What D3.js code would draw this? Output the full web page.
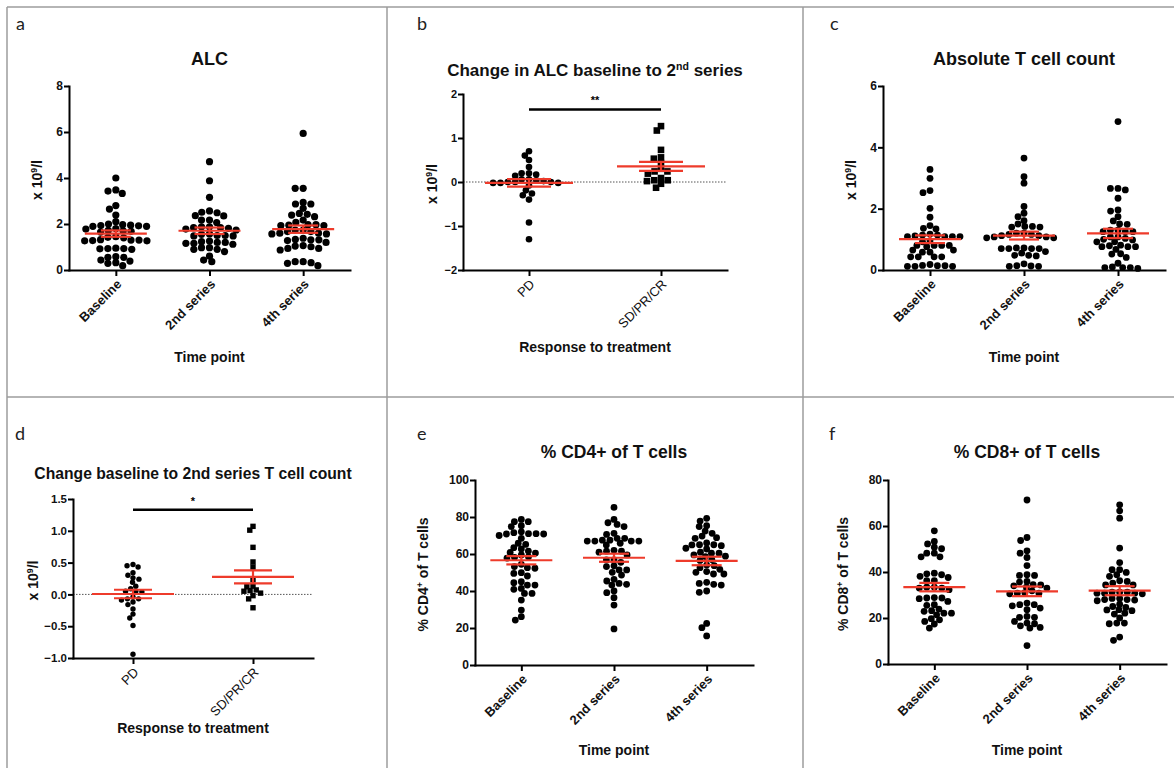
<!DOCTYPE html>
<html>
<head>
<meta charset="utf-8">
<script src="https://cdn.jsdelivr.net/npm/d3@7"></script>
<style>
body { margin: 0; background: #fff; }
svg { display: block; font-family: "Liberation Sans", Arial, sans-serif; }
</style>
</head>
<body>
<div id="chart"></div>
<script>
// Categories
var timePoints = ['Baseline', '2nd series', '4th series'];
var responseGroups = ['PD', 'SD/PR/CR'];

// a: ALC (x 10^9/l)
var alcBaseline = [4.0, 3.43, 3.33, 3.48, 2.8, 2.65, 2.39, 2.1, 1.97, 1.93, 1.9, 1.9, 1.92, 1.95, 2.0, 1.7, 1.68, 1.72, 1.65, 1.78, 1.8, 1.45, 1.42, 1.4, 1.3, 1.28, 1.27, 1.3, 1.32, 1.27, 0.95, 0.93, 0.92, 0.9, 0.93, 0.55, 0.55, 0.58, 0.43, 0.39, 0.32, 0.29, 0.19];
var alc2nd = [4.71, 3.88, 3.16, 2.57, 2.49, 2.35, 2.17, 2.06, 2.17, 2.36, 2.51, 1.88, 1.84, 1.81, 1.74, 1.78, 1.84, 1.88, 1.55, 1.5, 1.48, 1.48, 1.5, 1.57, 1.23, 1.2, 1.16, 1.12, 1.16, 1.2, 1.26, 0.97, 0.9, 0.9, 0.97, 0.8, 0.6, 0.36, 0.43];
var alc4th = [5.94, 3.55, 3.55, 2.87, 2.94, 2.87, 2.68, 2.46, 2.39, 2.42, 2.32, 2.17, 2.07, 1.97, 1.93, 1.93, 1.95, 1.97, 1.74, 1.67, 1.6, 1.57, 1.57, 1.6, 1.67, 1.74, 1.38, 1.31, 1.31, 1.33, 1.28, 1.2, 1.04, 0.94, 0.87, 0.94, 1.01, 1.06, 0.36, 0.32, 0.36, 0.19, 0.29];

// b: change in ALC baseline to 2nd series
var alcChangePD = [0.06, 0.04, 0, -0.02, -0.02, 0, -0.02, 0, 0.02, 0.06, 0.34, 0.6, 0.5, 0.7, 0.2, 0.14, 0.17, 0.2, -0.26, -0.4, -0.3, -0.19, -0.08, -0.92, -1.3];
var alcChangeSD = [1.27, 1.17, 0.73, 0.53, 0.56, 0.43, 0.3, 0.24, 0.19, 0.24, 0.04, 0.02, 0.04, 0.09, -0.04, -0.13];

// c: absolute T cell count
var tcellBaseline = [3.28, 2.99, 2.59, 2.52, 2.01, 1.72, 1.36, 1.34, 1.45, 1.17, 1.14, 1.09, 1.09, 1.09, 1.09, 1.11, 1.14, 0.95, 0.92, 0.8, 0.8, 0.8, 0.8, 0.76, 0.65, 0.58, 0.58, 0.65, 0.43, 0.43, 0.43, 0.43, 0.15, 0.14, 0.12, 0.12, 0.12, 0.14, 0.18];
var tcell2nd = [3.65, 3.04, 2.83, 2.07, 1.74, 1.85, 1.61, 1.5, 1.42, 1.4, 1.4, 1.42, 1.16, 1.2, 1.2, 1.16, 1.12, 1.08, 1.05, 1.05, 1.08, 1.12, 0.72, 0.7, 0.7, 0.7, 0.7, 0.72, 0.48, 0.48, 0.46, 0.55, 0.6, 0.2, 0.13, 0.12, 0.12, 0.14];
var tcell4th = [4.84, 2.66, 2.61, 2.66, 2.34, 1.96, 1.92, 1.74, 1.6, 1.49, 1.5, 1.3, 1.25, 1.25, 1.3, 1.25, 1.08, 1.0, 0.92, 0.92, 0.98, 1.03, 1.08, 0.81, 0.76, 0.67, 0.76, 0.76, 0.79, 0.53, 0.52, 0.22, 0.41, 0.08, 0.08, 0.05, 0.08, 0.1];

// d: change baseline to 2nd series T cell count
var tcellChangePD = [0.47, 0.43, 0.45, 0.34, 0.3, 0.26, 0.24, 0.19, 0.13, 0.09, 0.05, 0.05, 0.04, -0.04, -0.09, -0.07, -0.07, -0.16, -0.12, -0.23, -0.37, -0.31, -0.49, -0.94];
var tcellChangeSD = [1.07, 1.01, 0.74, 0.51, 0.43, 0.23, 0.12, 0.05, 0.13, 0.02, -0.07, -0.02, 0.06, 0.07, -0.21];

// e: % CD4+ of T cells
var cd4Baseline = [78.7, 77.5, 77.5, 74.8, 75.3, 71.5, 71, 70.8, 70.8, 71, 72, 70, 68.5, 65.2, 65.8, 63.4, 61.6, 62.7, 60.5, 58.2, 57.8, 58.5, 59.5, 60.8, 54.4, 52.6, 52.3, 53.2, 49.9, 49.5, 48.1, 43.2, 43.2, 45, 44.5, 40.9, 41.4, 38.7, 38.7, 35.1, 29.7, 24.3, 26.1];
var cd42nd = [85.2, 78.7, 76.9, 76.0, 74.8, 71.2, 70.6, 68.5, 67.5, 67, 67, 67, 67, 67.5, 68.5, 65.8, 64.9, 61.5, 61.5, 62, 61, 56.8, 59.5, 56.8, 55.5, 53.2, 53.6, 51.4, 51.4, 50.1, 46.3, 43.6, 43.2, 48.6, 44.1, 45.4, 39.1, 40, 36.4, 32.4, 19.5];
var cd44th = [79.3, 77.8, 74.8, 75.3, 71.2, 72.4, 68.5, 68.8, 69.7, 66, 65, 64.5, 65, 62.7, 63.1, 64.9, 61, 60.4, 59.5, 58.6, 58.8, 60.4, 57, 56.5, 54, 52.6, 50.5, 49.2, 49.2, 50.1, 51.7, 53.7, 44.1, 43.2, 43.6, 44.7, 39.3, 40, 22.5, 20.2, 15.7];

// f: % CD8+ of T cells
var cd8Baseline = [57.9, 52.2, 53.3, 50.8, 50.1, 48.2, 46.6, 46.6, 48.2, 39.5, 38.8, 37.6, 36.2, 36.2, 38.1, 39.2, 33.4, 33, 32.3, 33, 33.4, 28.7, 28.4, 25.8, 27.2, 28.7, 28.9, 23.9, 22.9, 22.1, 21.4, 22.1, 23.2, 25.5, 19.7, 18.5, 17.4, 19.2, 15.6];
var cd82nd = [71.3, 55, 53.7, 49.2, 48.2, 46.3, 42.8, 38.5, 38.5, 38.8, 35.6, 34, 34.5, 33, 33.4, 34.4, 35.9, 30.8, 30.5, 31.8, 30.8, 31, 25.3, 23.6, 26.5, 24.3, 25.8, 25.8, 20.3, 17.8, 20.7, 20.3, 18.5, 17.5, 15.9, 15.6, 16.6, 8];
var cd84th = [69.2, 66.6, 63.4, 50.4, 44.1, 41, 39.8, 41, 38.8, 38.1, 36.2, 35.2, 34.4, 34.4, 35.9, 31.2, 30.8, 30.5, 31.2, 30.8, 31.2, 30.8, 28, 27.5, 28.5, 28.5, 27.8, 28, 25, 23.6, 24.6, 26, 22.1, 20, 23.2, 23.5, 21.7, 17.8, 17.5, 17.8, 10.3, 11.7];

// Tick labels
var alcTicks = [0, 2, 4, 6, 8];
var alcChangeTicks = [-2, -1, 0, 1, 2];
var tcellTicks = [0, 2, 4, 6];
var tcellChangeTicks = [-1.0, -0.5, 0.0, 0.5, 1.0, 1.5];
var cd4Ticks = [0, 20, 40, 60, 80, 100];
var cd8Ticks = [0, 20, 40, 60, 80];

// Significance annotations (level in data units)
var alcChangeSig = {stars: '**', level: 1.65};
var tcellChangeSig = {stars: '*', level: 1.33};

var width = 1174, height = 768;
var red = '#ee3b2b';

var svg = d3.select('#chart').append('svg')
    .attr('width', width)
    .attr('height', height);

// Grey frame around the six panels.
var frame = [[7, 7, 1174, 7], [7, 7, 7, 768], [387, 7, 387, 768], [803, 7, 803, 768], [7, 397, 1174, 397]];
svg.selectAll('.frame').data(frame).enter().append('line')
    .attr('x1', function(d){ return d[0]; })
    .attr('y1', function(d){ return d[1]; })
    .attr('x2', function(d){ return d[2]; })
    .attr('y2', function(d){ return d[3]; })
    .attr('stroke', '#9c9c9c')
    .attr('stroke-width', 1.5);

var supY = [{t: 'x 10'}, {t: '9', sup: true}, {t: '/l'}];

var panels = [
    {label: 'a', lx: 16, ly: 30, groups: timePoints, series: [alcBaseline, alc2nd, alc4th], ticks: alcTicks,
     x0: 69, x1: 350, yTop: 86, yBot: 270, r: 3.6, meanHalf: 31, capHalf: 15,
     title: [{t: 'ALC'}], titleY: 65, titleSize: 18,
     yTitle: supY, yTitleX: 37, xTitle: 'Time point', xTitleY: 362, fmt: d3.format('d'), tickSize: 12},
    {label: 'b', lx: 417, ly: 30, groups: responseGroups, series: [alcChangePD, alcChangeSD], ticks: alcChangeTicks,
     x0: 463, x1: 727, yTop: 94, yBot: 270, r: 3.3, meanHalf: 44, capHalf: 22, squares: true, zero: true,
     sig: alcChangeSig,
     title: [{t: 'Change in ALC baseline to 2'}, {t: 'nd', sup: true}, {t: ' series'}], titleY: 76, titleSize: 17,
     yTitle: supY, yTitleX: 432, xTitle: 'Response to treatment', xTitleY: 352, fmt: d3.format('d'), tickSize: 11, thinX: true},
    {label: 'c', lx: 830, ly: 30, groups: timePoints, series: [tcellBaseline, tcell2nd, tcell4th], ticks: tcellTicks,
     x0: 883, x1: 1165, yTop: 86, yBot: 270, r: 3.4, meanHalf: 31, capHalf: 15,
     title: [{t: 'Absolute T cell count'}], titleY: 65, titleSize: 18,
     yTitle: supY, yTitleX: 851, xTitle: 'Time point', xTitleY: 362, fmt: d3.format('d'), tickSize: 12},
    {label: 'd', lx: 15, ly: 440, groups: responseGroups, series: [tcellChangePD, tcellChangeSD], ticks: tcellChangeTicks,
     x0: 73, x1: 313, yTop: 499, yBot: 658, r: 2.7, meanHalf: 41, capHalf: 19, squares: true, zero: true,
     sig: tcellChangeSig,
     title: [{t: 'Change baseline to 2nd series T cell count'}], titleY: 479, titleSize: 15.7,
     yTitle: supY, yTitleX: 33, xTitle: 'Response to treatment', xTitleY: 733, fmt: d3.format('.1f'), tickSize: 11.5, thinX: true},
    {label: 'e', lx: 417, ly: 440, groups: timePoints, series: [cd4Baseline, cd42nd, cd44th], ticks: cd4Ticks,
     x0: 475, x1: 753, yTop: 480, yBot: 665, r: 3.4, meanHalf: 31, capHalf: 15,
     title: [{t: '% CD4+ of T cells'}], titleY: 458, titleSize: 17.5,
     yTitle: [{t: '% CD4'}, {t: '+', sup: true}, {t: ' of T cells'}], yTitleX: 423, xTitle: 'Time point', xTitleY: 755, fmt: d3.format('d'), tickSize: 12},
    {label: 'f', lx: 829, ly: 440, groups: timePoints, series: [cd8Baseline, cd82nd, cd84th], ticks: cd8Ticks,
     x0: 888, x1: 1166, yTop: 480, yBot: 664, r: 3.4, meanHalf: 31, capHalf: 15,
     title: [{t: '% CD8+ of T cells'}], titleY: 458, titleSize: 17.5,
     yTitle: [{t: '% CD8'}, {t: '+', sup: true}, {t: ' of T cells'}], yTitleX: 843, xTitle: 'Time point', xTitleY: 755, fmt: d3.format('d'), tickSize: 12}
];

// Write text made of pieces, some of them superscript.
function richText(sel, parts, size) {
    parts.forEach(function(p, i){
        var prevSup = i > 0 && parts[i - 1].sup;
        var ts = sel.append('tspan').text(p.t);
        if (p.sup) ts.attr('font-size', size * 0.62).attr('dy', -size * 0.38);
        else if (prevSup) ts.attr('dy', size * 0.38);
    });
}

// Beeswarm with a squashed (elliptical) keep-out zone: points in a row sit D apart,
// rows closer than H may overlap a little, like the scatter-dot plots of the original.
function swarm(values, y, D, H) {
    var pts = values.map(function(v){ return {v: v, y: y(v)}; })
        .sort(function(a, b){ return a.y - b.y; });
    var placed = [];
    function need(dy){ return D * Math.sqrt(Math.max(0, 1 - (dy * dy) / (H * H))); }
    pts.forEach(function(p){
        var near = placed.filter(function(q){ return Math.abs(q.y - p.y) < H; });
        var cands = [0];
        near.forEach(function(q){
            var dx = need(q.y - p.y);
            cands.push(q.dx + dx, q.dx - dx);
        });
        cands.sort(function(a, b){ return Math.abs(a) - Math.abs(b) || a - b; });
        p.dx = 0;
        for (var i = 0; i < cands.length; i++) {
            var c = cands[i];
            var ok = near.every(function(q){ return Math.abs(c - q.dx) >= need(q.y - p.y) - 0.01; });
            if (ok) { p.dx = c; break; }
        }
        placed.push(p);
    });
    return placed;
}

panels.forEach(function(p){
    var g = svg.append('g');

    var y = d3.scaleLinear()
        .domain([p.ticks[0], p.ticks[p.ticks.length - 1]])
        .range([p.yBot, p.yTop]);
    var x = d3.scalePoint()
        .domain(p.groups)
        .range([p.x0, p.x1])
        .padding(0.5);

    // Panel letter
    g.append('text')
        .attr('x', p.lx).attr('y', p.ly)
        .attr('font-family', 'Lato, "Open Sans", sans-serif')
        .attr('font-size', 18)
        .attr('fill', '#222')
        .text(p.label);

    // Title
    var title = g.append('text')
        .attr('x', (p.x0 + p.x1) / 2).attr('y', p.titleY)
        .attr('text-anchor', 'middle')
        .attr('font-weight', 'bold')
        .attr('font-size', p.titleSize)
        .attr('fill', '#111');
    richText(title, p.title, p.titleSize);

    // Dotted zero line
    if (p.zero) {
        g.append('line')
            .attr('x1', p.x0).attr('x2', p.x1)
            .attr('y1', y(0)).attr('y2', y(0))
            .attr('stroke', '#555')
            .attr('stroke-width', 1)
            .attr('stroke-dasharray', '1.5,1.5');
    }

    // Axes
    var yAxis = d3.axisLeft(y).tickValues(p.ticks).tickSize(5).tickSizeOuter(0).tickPadding(1).tickFormat(p.fmt);
    var ya = g.append('g').attr('transform', 'translate(' + p.x0 + ',0)').call(yAxis);
    var xAxis = d3.axisBottom(x).tickSize(6).tickSizeOuter(0).tickPadding(0);
    var xa = g.append('g').attr('transform', 'translate(0,' + p.yBot + ')').call(xAxis);

    [ya, xa].forEach(function(a){
        a.attr('font-family', null).attr('font-size', null);
        a.select('.domain').attr('stroke', '#000').attr('stroke-width', 2).attr('stroke-linecap', 'square');
        a.selectAll('.tick line').attr('stroke', '#000').attr('stroke-width', 2);
    });
    ya.selectAll('.tick text')
        .attr('font-size', p.tickSize)
        .attr('font-weight', 'bold')
        .attr('fill', '#111');
    xa.selectAll('.tick text')
        .attr('x', 0).attr('y', 0).attr('dy', 0)
        .attr('text-anchor', 'end')
        .attr('transform', 'translate(6,15) rotate(-45)')
        .attr('font-size', 13)
        .attr('font-weight', p.thinX ? 'normal' : 'bold')
        .attr('fill', '#111');

    // Axis titles
    var yt = g.append('text')
        .attr('transform', 'translate(' + p.yTitleX + ',' + ((p.yTop + p.yBot) / 2 + 2) + ') rotate(-90)')
        .attr('text-anchor', 'middle')
        .attr('dy', '0.35em')
        .attr('font-weight', 'bold')
        .attr('font-size', 14)
        .attr('fill', '#111');
    richText(yt, p.yTitle, 14);

    g.append('text')
        .attr('x', (p.x0 + p.x1) / 2).attr('y', p.xTitleY)
        .attr('text-anchor', 'middle')
        .attr('font-weight', 'bold')
        .attr('font-size', 14)
        .attr('fill', '#111')
        .text(p.xTitle);

    // Points
    p.series.forEach(function(vals, i){
        var cx = x(p.groups[i]);
        var D = 2 * p.r + 0.8;
        var pts = swarm(vals, y, D, 0.72 * D);
        var square = p.squares && i === 1;
        if (square) {
            g.selectAll(null).data(pts).enter().append('rect')
                .attr('x', function(d){ return cx + d.dx - p.r; })
                .attr('y', function(d){ return d.y - p.r; })
                .attr('width', 2 * p.r)
                .attr('height', 2 * p.r)
                .attr('fill', '#000');
        } else {
            g.selectAll(null).data(pts).enter().append('circle')
                .attr('cx', function(d){ return cx + d.dx; })
                .attr('cy', function(d){ return d.y; })
                .attr('r', p.r)
                .attr('fill', '#000');
        }

        // Mean and SEM
        var m = d3.mean(vals);
        var sem = d3.deviation(vals) / Math.sqrt(vals.length);
        var segs = [
            [cx - p.meanHalf, m, cx + p.meanHalf, m],
            [cx, m - sem, cx, m + sem],
            [cx - p.capHalf, m + sem, cx + p.capHalf, m + sem],
            [cx - p.capHalf, m - sem, cx + p.capHalf, m - sem]
        ];
        g.selectAll(null).data(segs).enter().append('line')
            .attr('x1', function(d){ return d[0]; })
            .attr('y1', function(d){ return y(d[1]); })
            .attr('x2', function(d){ return d[2]; })
            .attr('y2', function(d){ return y(d[3]); })
            .attr('stroke', red)
            .attr('stroke-width', 2.2);
    });

    // Significance bar
    if (p.sig) {
        var xa0 = x(p.groups[0]), xa1 = x(p.groups[1]);
        g.append('line')
            .attr('x1', xa0).attr('x2', xa1)
            .attr('y1', y(p.sig.level)).attr('y2', y(p.sig.level))
            .attr('stroke', '#000')
            .attr('stroke-width', 2.5);
        g.append('text')
            .attr('x', (xa0 + xa1) / 2).attr('y', y(p.sig.level) - 5)
            .attr('text-anchor', 'middle')
            .attr('font-size', 11)
            .attr('font-weight', 'bold')
            .text(p.sig.stars);
    }
});
</script>
</body>
</html>
